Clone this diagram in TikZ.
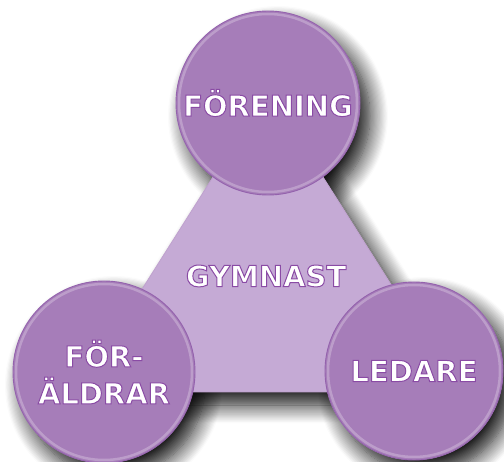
\documentclass[tikz,border=0pt]{standalone}
\usepackage{fontspec}
\setmainfont{DejaVu Sans}
\usetikzlibrary{shadows.blur}

\definecolor{ringfill}{HTML}{A67DB9}
\definecolor{trifill}{HTML}{C5AAD5}
\definecolor{rimline}{HTML}{9462AD}

% white letters with a thin purple outline
\newcommand{\lbl}[1]{\special{pdf:literal direct 2 Tr 1.0 w 0.541 0.294 0.647 RG}#1\special{pdf:literal direct 0 Tr}}

\tikzset{
  ring/.style={circle, fill=ringfill, draw=rimline, line width=0.9pt,
    inner sep=0pt, text=white, align=center,
    font=\fontspec{DejaVu Sans Bold}\fontsize{29}{37}\selectfont},
  middle/.style={fill=trifill, draw=rimline!60, line width=0.8pt},
  dropshade/.style={blur shadow={shadow xshift=10pt, shadow yshift=-13pt,
    shadow blur radius=18pt, shadow blur steps=16, shadow opacity=95}}
}

\begin{document}
\begin{tikzpicture}[x=1pt,y=-1pt]
  \useasboundingbox (0,0) rectangle (504,462);

  % corners of the middle triangle
  \coordinate (tritop) at (268,90);
  \coordinate (trileft) at (77,392);
  \coordinate (triright) at (459,392);

  % shadows first
  \fill[white, dropshade] (tritop) -- (trileft) -- (triright) -- cycle;
  \fill[white, dropshade] (268,103) circle (92);
  \fill[white, dropshade] (104,372) circle (91);
  \fill[white, dropshade] (414,371) circle (89);

  \draw[middle] (tritop) -- (trileft) -- (triright) -- cycle;
  \node[font=\fontspec{DejaVu Sans Bold}\fontsize{29}{37}\selectfont, text=white] (gymnast) at (266,276) {\lbl{GYMNAST}};

  \node[ring, minimum size=184pt] (forening) at (268,103) {\lbl{FÖRENING}};
  \node[ring, minimum size=182pt] (foraldrar) at (104,372) {\lbl{FÖR-}\\\lbl{ÄLDRAR}};
  \node[ring, minimum size=178pt] (ledare) at (414,371) {\lbl{LEDARE}};

  % soft inner rim of the circles
  \foreach \c/\r in {forening/89, foraldrar/88, ledare/86}
    \draw[white, opacity=0.25, line width=2.5pt] (\c.center) circle (\r);
\end{tikzpicture}
\end{document}
